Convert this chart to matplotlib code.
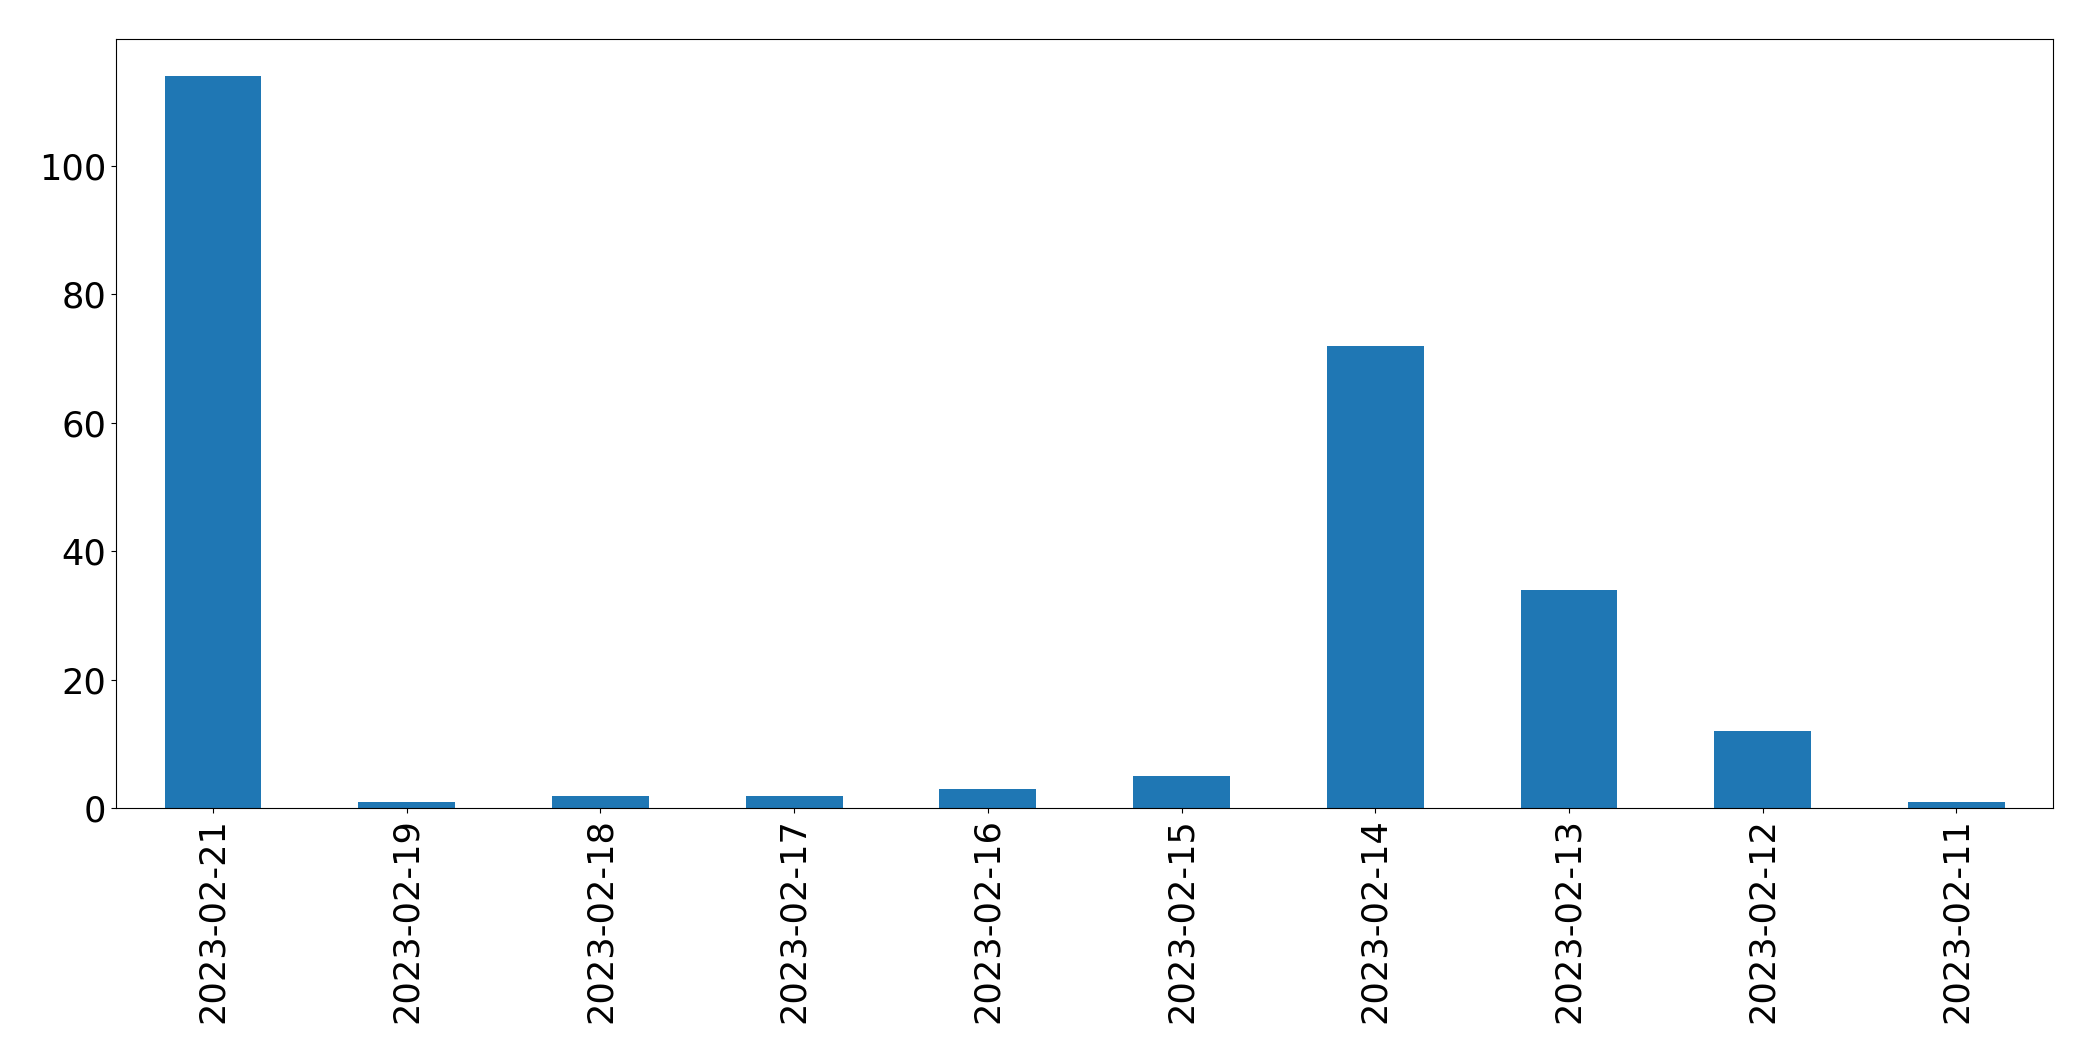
import numpy as np
import matplotlib
matplotlib.use('Agg')
import matplotlib.pyplot as plt

dates = ['2023-02-21', '2023-02-19', '2023-02-18', '2023-02-17', '2023-02-16',
         '2023-02-15', '2023-02-14', '2023-02-13', '2023-02-12', '2023-02-11']
counts = [114, 1, 2, 2, 3, 5, 72, 34, 12, 1]

fig, ax = plt.subplots(figsize=(20.93, 10.61), dpi=100)
x = np.arange(len(dates))
ax.bar(x, counts, width=0.5, color='#1f77b4')
ax.set_xlim(-0.5, len(dates) - 0.5)
ax.set_ylim(0, max(counts) * 1.05)
ax.set_xticks(x)
ax.set_xticklabels(dates, rotation=90)
ax.tick_params(labelsize=25.3)
fig.subplots_adjust(left=0.0555, right=0.981, top=0.963, bottom=0.238)
fig.savefig('out.png', dpi=100)
